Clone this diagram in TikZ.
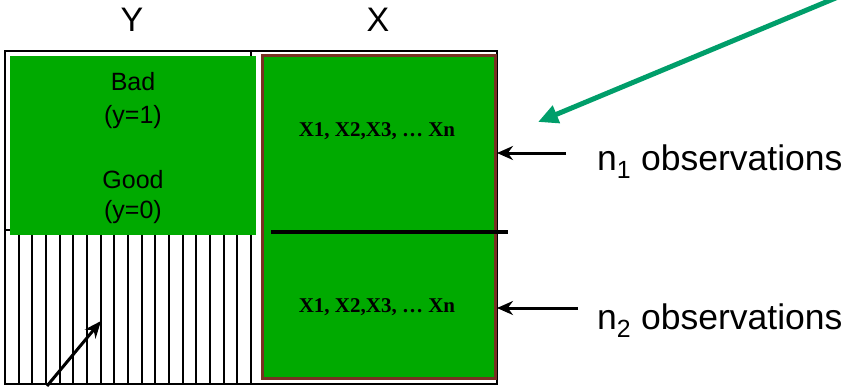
\documentclass[tikz,border=0pt]{standalone}
\usepackage{fontspec}
\setmainfont{Liberation Sans}
\newfontfamily\timesf{Liberation Serif}
\usetikzlibrary{arrows.meta}
\definecolor{boxgreen}{RGB}{0,170,0}
\definecolor{boxbrown}{RGB}{120,50,35}
\definecolor{teal}{RGB}{0,158,106}
\tikzset{
  frame/.style={draw=black,line width=2.4pt},
  label/.style={inner sep=0pt,font=\fontsize{25}{29}\selectfont},
  head/.style={inner sep=0pt,font=\fontsize{34}{38}\selectfont},
  obs/.style={inner sep=0pt,anchor=base west,font=\fontsize{35.5}{40}\selectfont},
  xs/.style={inner sep=0pt,font=\timesf\bfseries\fontsize{21}{24}\selectfont},
  blackarrow/.style={-{Stealth[length=16pt,width=14pt]},line width=3pt},
}
\begin{document}
\begin{tikzpicture}[x=1pt,y=-1pt]
\useasboundingbox (0,0) rectangle (859,386);
\clip (0,0) rectangle (859,386);
% frames
\draw[frame] (5,51) rectangle (251,384);
\draw[frame] (251,51) rectangle (497,384);
% hatching in lower left part
\draw[line width=2.2pt] (5,230) -- (251,230);
\foreach \i in {1,...,17} {
  \draw[line width=2.2pt] ({5+13.667*\i},230) -- ({5+13.667*\i},384);
}
% green boxes
\fill[boxgreen] (10,56) rectangle (256,235);
\draw[fill=boxgreen,draw=boxbrown,line width=3pt] (262,55) rectangle (495,378);
% separator
\coordinate (sepL) at (271,232);
\coordinate (sepR) at (508,232);
\draw[line width=4pt] (sepL) -- (sepR);
% headings
\node[head] (Y) at (132,20) {Y};
\node[head] (X) at (378,20) {X};
% Y labels
\node[label] (bad) at (133,82) {Bad};
\node[label] (y1) at (133,117) {(y=1)};
\node[label] (good) at (133,180) {Good};
\node[label] (y0) at (133,212) {(y=0)};
% X labels
\node[xs] (x1) at (377,131) {X1, X2,X3, … Xn};
\node[xs] (x2) at (377,307) {X1, X2,X3, … Xn};
% observations
\node[obs] (n1) at (597,170) {n\textsubscript{1} observations};
\node[obs] (n2) at (597,329) {n\textsubscript{2} observations};
% arrows
\coordinate (a1s) at (566,153);
\coordinate (a1e) at (497,153);
\coordinate (a2s) at (578,308);
\coordinate (a2e) at (497,308);
\draw[blackarrow] (a1s) -- (a1e);
\draw[blackarrow] (a2s) -- (a2e);
\coordinate (hs) at (47,386);
\coordinate (he) at (101,321);
\draw[blackarrow,-{Stealth[length=17pt,width=14pt]}] (hs) -- (he);
\coordinate (gs) at (850,-8);
\coordinate (ge) at (538,122);
\draw[teal,line width=5pt,-{Triangle[length=20pt,width=18pt]}] (gs) -- (ge);
\end{tikzpicture}
\end{document}
